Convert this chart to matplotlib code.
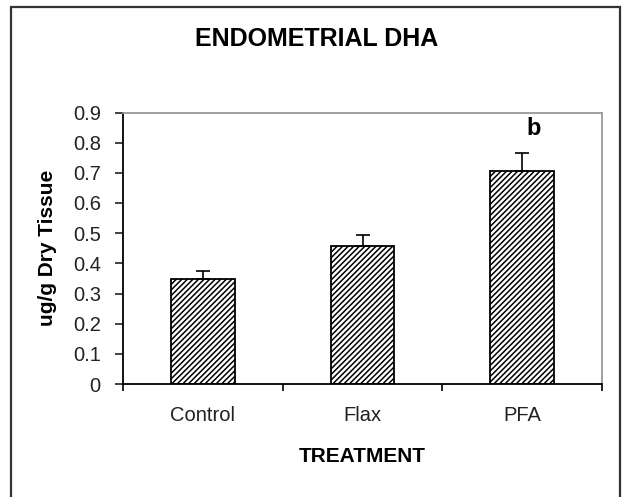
#!/usr/bin/python
# Endometrial DHA bar chart (Excel-style, hatched bars with upper error bars)
import numpy as np
import matplotlib
matplotlib.use("Agg")
import matplotlib.pyplot as plt
import matplotlib.patches as patches

# data
treatments = ['Control', 'Flax', 'PFA']
dha = [0.347, 0.459, 0.706]
dha_err = [0.027, 0.034, 0.061]
sig_letter = 'b'

plt.rcParams['font.family'] = ['Liberation Sans', 'DejaVu Sans']
plt.rcParams['hatch.linewidth'] = 1.1

W, H = 623, 497
fig = plt.figure(figsize=(W / 100, H / 100), dpi=100)
ax = fig.add_axes([123 / W, 1 - 384 / H, (602 - 123) / W, (384 - 112.5) / H])

x = np.arange(len(treatments))
ax.bar(x, dha, width=0.4, color='white', edgecolor='black', linewidth=1.3,
       hatch='//////', zorder=2)
ax.errorbar(x, dha, yerr=[np.zeros(len(dha)), dha_err], fmt='none',
            ecolor='black', elinewidth=1.2, capsize=5, capthick=1.2, zorder=3)
ax.text(2.07, 0.848, sig_letter, fontsize=17, fontweight='bold',
        ha='center', va='center')

ax.set_xlim(-0.5, 2.5)
ax.set_ylim(0, 0.9)
ax.set_yticks(np.arange(0, 0.91, 0.1))
ax.set_yticklabels(['0'] + ['%.1f' % v for v in np.arange(0.1, 0.91, 0.1)])
ax.set_xticks(x)
ax.set_xticklabels(treatments)
ax.set_xticks([-0.5, 0.5, 1.5, 2.5], minor=True)
ax.tick_params(axis='x', which='major', length=0, pad=16, labelsize=14.5,
               colors='#222')
ax.tick_params(axis='x', which='minor', length=5, width=1.2, color='black')
ax.tick_params(axis='y', length=6, width=1.2, pad=10, labelsize=14.5,
               colors='#222')

for side in ['left', 'bottom']:
    ax.spines[side].set_color('black')
    ax.spines[side].set_linewidth(1.3)
for side in ['top', 'right']:
    ax.spines[side].set_color('#999999')
    ax.spines[side].set_linewidth(1.3)

ax.set_xlabel('TREATMENT', fontsize=15, fontweight='bold')
ax.xaxis.set_label_coords(0.5, -0.232)
ax.set_ylabel('ug/g Dry Tissue', fontsize=15, fontweight='bold')
ax.yaxis.set_label_coords(-0.138, 0.5)

fig.text(317 / W, 1 - 39 / H, 'ENDOMETRIAL DHA', fontsize=18,
         fontweight='bold', ha='center', va='center')

# outer chart frame
frame = patches.Rectangle((11 / W, -0.05), 609 / W, 1 - 7 / H + 0.05,
                          transform=fig.transFigure, fill=False,
                          edgecolor='#333333', linewidth=1.6, clip_on=False)
fig.patches.append(frame)

fig.savefig('out.png', dpi=100)
